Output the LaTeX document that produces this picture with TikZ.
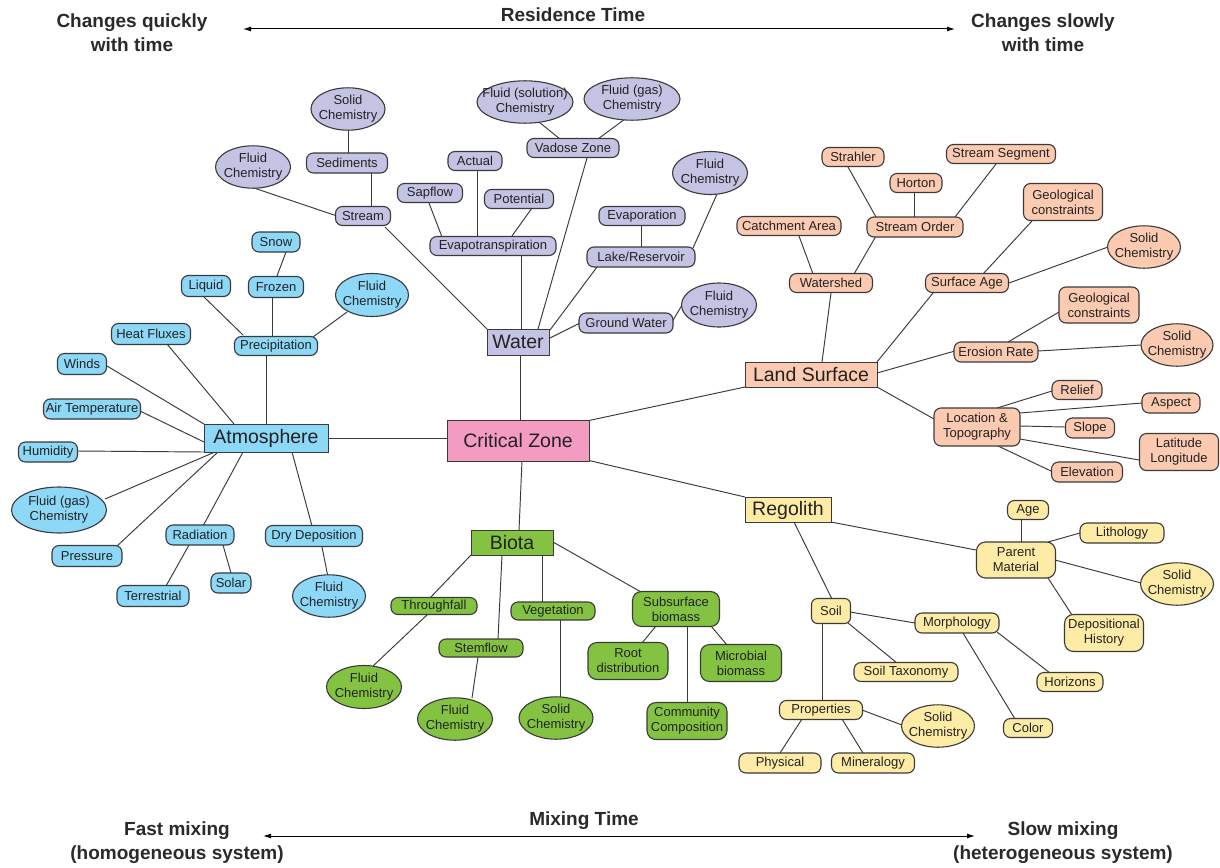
\documentclass[tikz,border=0pt]{standalone}
\usepackage{fontspec}
\setmainfont{Liberation Sans}
\usetikzlibrary{shapes.geometric,arrows.meta}
\definecolor{atmc}{HTML}{8DD7F7}
\definecolor{watc}{HTML}{C5C3E3}
\definecolor{lsc}{HTML}{FBCAB1}
\definecolor{regc}{HTML}{FEEBA6}
\definecolor{bioc}{HTML}{84C341}
\definecolor{czc}{HTML}{F49BC1}
\definecolor{linec}{HTML}{3A3A3A}
\definecolor{txtc}{HTML}{222222}
\definecolor{hdc}{HTML}{2A2A2A}
\pgfdeclarelayer{bgwhite}
\pgfdeclarelayer{background}
\pgfsetlayers{bgwhite,background,main}
\newcommand\smallf{\fontsize{13}{15}\selectfont}
\newcommand\bigf{\fontsize{19.5}{23}\selectfont}
\newcommand\headf{\fontsize{19}{24}\selectfont\bfseries}
\newcommand\twol[2]{\makebox[0pt]{\begin{tabular}{@{}c@{}}#1\\#2\end{tabular}}}
\newcommand\lnk[6]{\draw[conn] ([shift={(#2,#3)}]#1.center) -- ([shift={(#5,#6)}]#4.center);}
\tikzset{
  sz/.style 2 args={minimum width=#1pt, minimum height=#2pt},
  basebox/.style={draw=linec, line width=1.1pt, inner sep=0pt, text=txtc, font=\smallf},
  rr/.style={basebox, rectangle, rounded corners=7pt, align=center},
  el/.style={basebox, ellipse},
  mainbox/.style={draw=linec, line width=1pt, inner sep=0pt, rectangle, font=\bigf, text=txtc},
  atmf/.style={fill=atmc},
  watf/.style={fill=watc},
  lsf/.style={fill=lsc},
  regf/.style={fill=regc},
  biof/.style={fill=bioc},
  conn/.style={draw=linec, line width=0.95pt},
  head/.style={font=\headf, text=hdc, align=center},
  harrow/.style={{Latex[length=8pt,width=5pt]}-{Latex[length=8pt,width=5pt]}, line width=1pt, draw=black},
}
\begin{document}
\begin{tikzpicture}[x=1pt,y=-1pt]
\begin{pgfonlayer}{bgwhite}
\fill[white] (0,0) rectangle (1220,867);
\end{pgfonlayer}
\useasboundingbox (0,0) rectangle (1220,867);

% ---------- header / footer ----------
\node[head] (cq) at (132,33) {Changes quickly\\with time};
\node[head] (rt) at (573,15) {Residence Time};
\node[head] (cs) at (1043,33) {Changes slowly\\with time};
\coordinate (hL) at (243,29);
\coordinate (hR) at (955,29);
\draw[harrow] (hL) -- (hR);

\node[head] (fm) at (177,843) {Fast mixing\\(homogeneous system)};
\node[head] (mt) at (584,821) {Mixing Time};
\node[head] (sm) at (1063,843) {Slow mixing\\(heterogeneous system)};
\coordinate (fL) at (263,836);
\coordinate (fR) at (975,836);
\draw[harrow] (fL) -- (fR);

% ---------- centre ----------
\node[mainbox, fill=czc, sz={142}{41}] (cz) at (518,440.5) {Critical Zone};

% ---------- Atmosphere ----------
\node[mainbox,atmf,sz={124}{28}] (atm) at (266,438) {Atmosphere};
\node[rr,atmf,sz={48}{20}] (snow) at (276,242) {Snow};
\node[rr,atmf,sz={49}{21}] (liquid) at (206,286) {Liquid};
\node[rr,atmf,sz={55}{21}] (frozen) at (276,287) {Frozen};
\node[el,atmf,sz={73}{43}] (atfc) at (372,295) {\twol{Fluid}{Chemistry}};
\node[rr,atmf,sz={79}{21}] (heat) at (151,334) {Heat Fluxes};
\node[rr,atmf,sz={83}{19}] (precip) at (276,346) {Precipitation};
\node[rr,atmf,sz={49}{21}] (winds) at (82,364) {Winds};
\node[rr,atmf,sz={97}{20}] (airt) at (92,409) {Air Temperature};
\node[rr,atmf,sz={59}{20}] (humid) at (48,452) {Humidity};
\node[el,atmf,sz={95}{46}] (atgas) at (59,510) {\twol{Fluid (gas)}{Chemistry}};
\node[rr,atmf,sz={70}{21}] (press) at (87,556) {Pressure};
\node[rr,atmf,sz={68}{20}] (rad) at (200,535) {Radiation};
\node[rr,atmf,sz={72}{21}] (terr) at (153,596) {Terrestrial};
\node[rr,atmf,sz={40}{20}] (solar) at (231,583) {Solar};
\node[rr,atmf,sz={97}{21}] (dry) at (314,536) {Dry Deposition};
\node[el,atmf,sz={73}{41}] (atfc2) at (329,596) {\twol{Fluid}{Chemistry}};

% ---------- Water ----------
\node[mainbox,watf,sz={62}{26}] (water) at (518,342) {Water};
\node[el,watf,sz={96}{42}] (wsol) at (525,102) {\twol{Fluid (solution)}{Chemistry}};
\node[el,watf,sz={96}{42}] (wgas) at (632,99) {\twol{Fluid (gas)}{Chemistry}};
\node[rr,watf,sz={92}{19}] (vadose) at (573,148) {Vadose Zone};
\node[rr,watf,sz={54}{19}] (actual) at (475,161) {Actual};
\node[rr,watf,sz={65}{19}] (sap) at (430,193) {Sapflow};
\node[rr,watf,sz={69}{19}] (pot) at (519,199) {Potential};
\node[rr,watf,sz={126}{19}] (et) at (493,246) {Evapotranspiration};
\node[rr,watf,sz={86}{19}] (evap) at (642,216) {Evaporation};
\node[el,watf,sz={75}{43}] (wlfc) at (710,173) {\twol{Fluid}{Chemistry}};
\node[rr,watf,sz={108}{20}] (lake) at (641,257) {Lake/Reservoir};
\node[rr,watf,sz={94}{20}] (gw) at (626,323) {Ground Water};
\node[el,watf,sz={75}{44}] (wgfc) at (719,305) {\twol{Fluid}{Chemistry}};
\node[el,watf,sz={74}{42}] (ssol) at (348,109) {\twol{Solid}{Chemistry}};
\node[rr,watf,sz={81}{20}] (sed) at (347,163) {Sediments};
\node[el,watf,sz={75}{42}] (sfc) at (253,167) {\twol{Fluid}{Chemistry}};
\node[rr,watf,sz={55}{19}] (stream) at (363,216) {Stream};

% ---------- Land Surface ----------
\node[mainbox,lsf,sz={132}{25}] (ls) at (811,375) {Land Surface};
\node[rr,lsf,sz={62}{19}] (strahler) at (853,157) {Strahler};
\node[rr,lsf,sz={52}{19}] (horton) at (916,183) {Horton};
\node[rr,lsf,sz={109}{19}] (sseg) at (1001,154) {Stream Segment};
\node[rr,lsf,sz={104}{19}] (catch) at (789,226) {Catchment Area};
\node[rr,lsf,sz={96}{20}] (sorder) at (915,227) {Stream Order};
\node[rr,lsf,sz={79}{37}] (geoa) at (1063,202) {Geological\\constraints};
\node[el,lsf,sz={73}{41}] (lsola) at (1144,247) {\twol{Solid}{Chemistry}};
\node[rr,lsf,sz={83}{19}] (wshed) at (831,283) {Watershed};
\node[rr,lsf,sz={83}{19}] (sage) at (967,283) {Surface Age};
\node[rr,lsf,sz={80}{36}] (geob) at (1099,305) {Geological\\constraints};
\node[rr,lsf,sz={84}{20}] (eros) at (996,352) {Erosion Rate};
\node[el,lsf,sz={72}{41}] (lsolb) at (1177,345) {\twol{Solid}{Chemistry}};
\node[rr,lsf,sz={50}{19}] (relief) at (1077,390) {Relief};
\node[rr,lsf,sz={58}{20}] (aspect) at (1171,403) {Aspect};
\node[rr,lsf,sz={86}{38}] (loc) at (977,427) {Location \&\\Topography};
\node[rr,lsf,sz={49}{20}] (slope) at (1090,428) {Slope};
\node[rr,lsf,sz={79}{37}] (latlong) at (1179,452) {Latitude\\Longitude};
\node[rr,lsf,sz={71}{20}] (elev) at (1087,472) {Elevation};

% ---------- Biota ----------
\node[mainbox,biof,sz={82}{25}] (biota) at (512,543) {Biota};
\node[rr,biof,sz={86}{17}] (through) at (434,606) {Throughfall};
\node[rr,biof,sz={84}{18}] (stem) at (481,648) {Stemflow};
\node[rr,biof,sz={84}{18}] (veg) at (553,611) {Vegetation};
\node[rr,biof,sz={87}{35},rounded corners=9pt] (subs) at (676,609) {Subsurface\\biomass};
\node[el,biof,sz={75}{43}] (bfca) at (364,687) {\twol{Fluid}{Chemistry}};
\node[el,biof,sz={75}{42}] (bfcb) at (455,719) {\twol{Fluid}{Chemistry}};
\node[el,biof,sz={74}{41}] (bsol) at (556,718) {\twol{Solid}{Chemistry}};
\node[rr,biof,sz={80}{37},rounded corners=9pt] (root) at (628,661) {Root\\distribution};
\node[rr,biof,sz={81}{37},rounded corners=9pt] (micro) at (741,663) {Microbial\\biomass};
\node[rr,biof,sz={80}{37},rounded corners=9pt] (comm) at (687,721) {Community\\Composition};

% ---------- Regolith ----------
\node[mainbox,regf,sz={86}{25}] (reg) at (788,510) {Regolith};
\node[rr,regf,sz={41}{19}] (age) at (1028,510) {Age};
\node[rr,regf,sz={84}{20}] (lith) at (1122,533) {Lithology};
\node[rr,regf,sz={79}{36},rounded corners=9pt] (parent) at (1016,560) {Parent\\Material};
\node[el,regf,sz={73}{41}] (rsola) at (1177,584) {\twol{Solid}{Chemistry}};
\node[rr,regf,sz={79}{37},rounded corners=9pt] (dep) at (1104,633) {Depositional\\History};
\node[rr,regf,sz={39}{25},rounded corners=6pt] (soil) at (831,611) {Soil};
\node[rr,regf,sz={84}{20}] (morph) at (957,623) {Morphology};
\node[rr,regf,sz={104}{19}] (tax) at (906,672) {Soil Taxonomy};
\node[rr,regf,sz={66}{19}] (hor) at (1070,682) {Horizons};
\node[rr,regf,sz={83}{19}] (prop) at (821,710) {Properties};
\node[el,regf,sz={73}{41}] (rsolb) at (938,726) {\twol{Solid}{Chemistry}};
\node[rr,regf,sz={49}{19}] (color) at (1028,728) {Color};
\node[rr,regf,sz={82}{20}] (phys) at (780,763) {Physical};
\node[rr,regf,sz={83}{20}] (miner) at (873,763) {Mineralogy};

% ---------- connectors ----------
\begin{pgfonlayer}{background}
% atmosphere
\lnk{atm}{0}{-14}{precip}{-10}{9}
\lnk{precip}{-33}{-11}{liquid}{-2}{11}
\lnk{precip}{-4}{-9}{frozen}{-4}{10}
\lnk{precip}{37}{-9}{atfc}{-25}{17}
\lnk{frozen}{1}{-11}{snow}{10}{10}
\lnk{atm}{-32}{-14}{heat}{16}{10}
\lnk{atm}{-62}{-14}{winds}{25}{2}
\lnk{atm}{-62}{4}{airt}{48}{2}
\lnk{atm}{-62}{14}{humid}{29}{-1}
\lnk{atm}{-51}{14}{atgas}{46}{-11}
\lnk{atm}{-48}{14}{press}{30}{-10}
\lnk{atm}{-23}{14}{rad}{3}{-9}
\lnk{atm}{26}{14}{dry}{-2}{-10}
\lnk{rad}{-11}{10}{terr}{13}{-10}
\lnk{rad}{23}{10}{solar}{0}{-10}
\lnk{dry}{8}{11}{atfc2}{-1}{-19}
\lnk{atm}{62}{0}{cz}{-71}{-2.5}
% water
\lnk{water}{3}{-13}{et}{28}{10}
\lnk{water}{-31}{-13}{stream}{22}{11}
\lnk{water}{20}{-13}{vadose}{14}{10}
\lnk{water}{32}{-12}{lake}{-44}{10}
\lnk{water}{32}{-4}{gw}{-46}{0}
\lnk{et}{-51}{-9}{sap}{-1}{10}
\lnk{et}{-16}{-9}{actual}{2}{10}
\lnk{et}{19}{-10}{pot}{13}{9}
\lnk{vadose}{-13}{-9}{wsol}{14}{20}
\lnk{vadose}{25}{-9}{wgas}{-7}{20}
\lnk{lake}{0}{-10}{evap}{-1}{10}
\lnk{lake}{52}{-9}{wlfc}{7}{21}
\lnk{gw}{46}{-1}{wgfc}{-37}{0}
\lnk{stream}{8}{-9}{sed}{24}{10}
\lnk{sed}{1}{-10}{ssol}{0}{20}
\lnk{stream}{-26}{0}{sfc}{1}{21}
\lnk{water}{2}{13}{cz}{2}{-20}
% land surface
\lnk{ls}{11}{-13}{wshed}{0}{10}
\lnk{wshed}{-18}{-9}{catch}{10}{10}
\lnk{wshed}{23}{-9}{sorder}{-39}{9}
\lnk{sorder}{-39}{-10}{strahler}{-5}{10}
\lnk{sorder}{-1}{-10}{horton}{-2}{10}
\lnk{sorder}{40}{-10}{sseg}{-5}{10}
\lnk{ls}{66}{-13}{sage}{-34}{10}
\lnk{sage}{16}{-9}{geoa}{-31}{19}
\lnk{sage}{42}{0}{lsola}{-36}{0}
\lnk{ls}{66}{-2}{eros}{-41}{-1}
\lnk{eros}{12}{-10}{geob}{-40}{7}
\lnk{eros}{42}{-1}{lsolb}{-36}{0}
\lnk{ls}{66}{12}{loc}{-43}{-8}
\lnk{loc}{20}{-19}{relief}{-25}{1}
\lnk{loc}{43}{-14}{aspect}{-29}{0}
\lnk{loc}{43}{-1}{slope}{-25}{-1}
\lnk{loc}{43}{12}{latlong}{-40}{8}
\lnk{loc}{21}{19}{elev}{-36}{-1}
\lnk{cz}{71}{-20}{ls}{-66}{12}
% biota
\lnk{cz}{4}{20}{biota}{7}{-12}
\lnk{biota}{-41}{12}{through}{-4}{-8}
\lnk{through}{-6}{8}{bfca}{9}{-21}
\lnk{biota}{-10}{12}{stem}{17}{-9}
\lnk{stem}{-3}{9}{bfcb}{17}{-21}
\lnk{biota}{30}{12}{veg}{-11}{-9}
\lnk{veg}{7}{9}{bsol}{4}{-20}
\lnk{biota}{41}{-1}{subs}{-35}{-17}
\lnk{subs}{-20}{17}{root}{14}{-18}
\lnk{subs}{35}{17}{micro}{-14}{-18}
\lnk{subs}{11}{17}{comm}{0}{-18}
% regolith
\lnk{cz}{71}{20}{reg}{-43}{-13}
\lnk{reg}{43}{12}{parent}{-40}{-10}
\lnk{reg}{6}{12}{soil}{1}{-12}
\lnk{parent}{5}{-18}{age}{-7}{9}
\lnk{parent}{32}{-18}{lith}{-42}{0}
\lnk{parent}{39}{0}{rsola}{-36}{-1}
\lnk{parent}{32}{18}{dep}{-32}{-18}
\lnk{soil}{19}{1}{morph}{-42}{0}
\lnk{soil}{17}{12}{tax}{-9}{-9}
\lnk{soil}{-9}{12}{prop}{1}{-9}
\lnk{morph}{40}{9}{hor}{-20}{-9}
\lnk{morph}{6}{10}{color}{-13}{-9}
\lnk{prop}{41}{0}{rsolb}{-36}{-1}
\lnk{prop}{-19}{9}{phys}{0}{-10}
\lnk{prop}{21}{9}{miner}{-10}{-10}
\end{pgfonlayer}
\end{tikzpicture}
\end{document}
